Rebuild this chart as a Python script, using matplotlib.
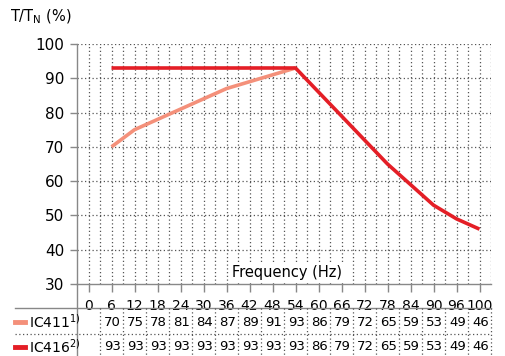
"""
Torque derating vs frequency, IC411 / IC416, with value table below the axis.
Saves: out.png
"""
import matplotlib.pyplot as plt
from matplotlib.transforms import blended_transform_factory
from matplotlib.lines import Line2D

FREQS   = ["0", "6", "12", "18", "24", "30", "36", "42", "48", "54",
           "60", "66", "72", "78", "84", "90", "96", "100"]
IC411   = [None, 70, 75, 78, 81, 84, 87, 89, 91, 93, 86, 79, 72, 65, 59, 53, 49, 46]
IC416   = [None, 93, 93, 93, 93, 93, 93, 93, 93, 93, 86, 79, 72, 65, 59, 53, 49, 46]
IC411_CURVE_END = 9          # IC411 drawn up to 54 Hz, then it shares IC416's curve
SERIES_NAMES = ["IC411", "IC416"]
SERIES_NOTES = ["1)", "2)"]
Y_TICKS = [30, 40, 50, 60, 70, 80, 90, 100]

C_411 = "#f4907a"
C_416 = "#e41e26"
GRID  = "#555555"
SPINE = "#888888"

plt.rcParams["font.family"] = ["DejaVu Sans"]

W, H = 506, 356
fig = plt.figure(figsize=(W / 100, H / 100), dpi=100)
L, R, T, B = 77, 491, 44, 284
ax = fig.add_axes([L / W, 1 - B / H, (R - L) / W, (B - T) / H])

n = len(FREQS)
xs = list(range(n))
ax.set_xlim(-0.5, n - 0.5)
ax.set_ylim(30, 100)

# ── grid ─────────────────────────────────────────────────────────────────────
for i in range(2 * n):
    ax.axvline(i * 0.5, color=GRID, lw=0.9, ls=(0, (1, 2)), zorder=0)
for yv in Y_TICKS[1:]:
    ax.axhline(yv, color=GRID, lw=0.9, ls=(0, (1, 2)), zorder=0)

# ── curves ───────────────────────────────────────────────────────────────────
x411 = [x for x, v in zip(xs, IC411) if v is not None][:IC411_CURVE_END]
y411 = [v for v in IC411 if v is not None][:IC411_CURVE_END]
ax.plot(x411, y411, color=C_411, lw=2.6, solid_capstyle="butt", zorder=3)
x416 = [x for x, v in zip(xs, IC416) if v is not None]
y416 = [v for v in IC416 if v is not None]
ax.plot(x416, y416, color=C_416, lw=2.6, solid_capstyle="butt", zorder=4)

# ── axes styling ─────────────────────────────────────────────────────────────
for s in ("top", "right"):
    ax.spines[s].set_visible(False)
for s in ("left", "bottom"):
    ax.spines[s].set_color(SPINE)
    ax.spines[s].set_linewidth(1.0)
ax.set_yticks(Y_TICKS)
ax.set_yticklabels([str(v) for v in Y_TICKS], fontsize=11)
ax.set_xticks(xs)
ax.set_xticklabels(FREQS, fontsize=10)
ax.tick_params(axis="y", length=5, width=1, color=SPINE, pad=4)
ax.tick_params(axis="x", length=6, width=1, color=SPINE, pad=5)

ax.text(8.63, 33.4, "Frequency (Hz)", ha="center", va="center", fontsize=10.5,
        bbox=dict(facecolor="white", edgecolor="none", pad=1.5), zorder=5)

fig.text(10 / W, 1 - 17 / H, r"T/T$_\mathregular{N}$ (%)", fontsize=10.5,
         va="center", ha="left")

# ── value table ──────────────────────────────────────────────────────────────
tr = blended_transform_factory(ax.transData, fig.transFigure)
fy = lambda py: 1 - py / H
fx = lambda px: px / W

fig.add_artist(Line2D([fx(15), fx(R)], [fy(308), fy(308)], color=SPINE, lw=1.0))
fig.add_artist(Line2D([fx(15), fx(R)], [fy(334), fy(334)], color=GRID, lw=0.9,
                      ls=(0, (1, 2))))
fig.add_artist(Line2D([fx(L), fx(L)], [fy(B), 0], color=SPINE, lw=1.0))
for i in range(1, 2 * n, 2):
    fig.add_artist(Line2D([i * 0.5, i * 0.5], [fy(308), 0], color=GRID, lw=0.9,
                          ls=(0, (1, 2)), transform=tr))

row_y = [fy(322), fy(347)]
for vals, yy, c, name, note in zip([IC411, IC416], row_y, [C_411, C_416],
                                   SERIES_NAMES, SERIES_NOTES):
    for x, v in zip(xs, vals):
        if v is not None:
            fig.text(x + 0.05, yy, str(v), transform=tr, ha="center", va="center",
                     fontsize=9.5)
    fig.add_artist(Line2D([fx(15), fx(25)], [yy, yy], color=c, lw=3.5))
    fig.text(fx(29), yy, name + r"$^{\mathregular{" + note + "}}$", ha="left",
             va="center", fontsize=10)

fig.savefig("out.png", dpi=100)
